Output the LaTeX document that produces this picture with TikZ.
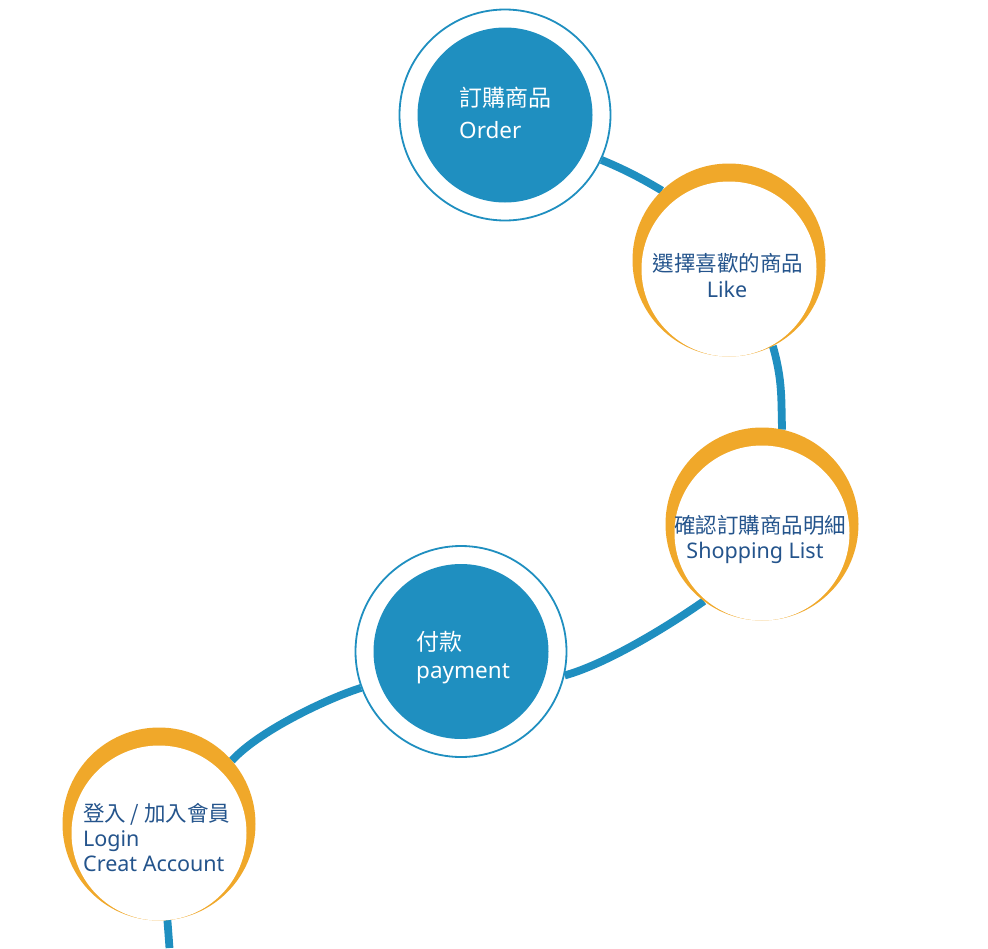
\documentclass[tikz,border=0pt]{standalone}
\usepackage{fontspec}
\setmainfont{Noto Sans}
\newfontfamily\cjkf{Noto Sans CJK TC}
\pgfdeclarelayer{bg}
\pgfdeclarelayer{lines}
\pgfsetlayers{bg,lines,main}
\definecolor{flowblue}{RGB}{31,143,192}
\definecolor{floworange}{RGB}{240,168,42}
\definecolor{flowtext}{RGB}{36,84,140}
\tikzset{
  ringnode/.style={circle, inner sep=0pt, minimum size=211pt, draw=flowblue, line width=1.8pt, fill=white},
  corenode/.style={circle, inner sep=0pt, minimum size=175pt, fill=flowblue},
  halonode/.style={circle, inner sep=0pt, outer sep=0pt, minimum size=193pt, fill=floworange},
  facenode/.style={circle, inner sep=0pt, minimum size=175pt, fill=white},
  link/.style={flowblue, line width=7.8pt},
  cjkblue/.style={inner sep=0pt, text=white, font=\cjkf\fontsize{23}{27}\selectfont},
  latblue/.style={inner sep=0pt, text=white, font=\fontsize{22.5}{27}\selectfont},
  cjkorange/.style={inner sep=0pt, text=flowtext, font=\cjkf\fontsize{21.5}{26}\selectfont},
  latorange/.style={inner sep=0pt, text=flowtext, font=\fontsize{21.5}{26}\selectfont},
}
\begin{document}
\begin{tikzpicture}[x=1pt,y=-1pt]
\begin{pgfonlayer}{bg}
\fill[white] (0,0) rectangle (988,948);
\end{pgfonlayer}
\useasboundingbox (0,0) rectangle (988,948);

% Order
\node[ringnode] (orderring) at (505,115) {};
\node[corenode] (ordercore) at (505,115) {};
\node[cjkblue, anchor=base west] (ordercn) at (459,106) {訂購商品};
\node[latblue, anchor=base west] (orderen) at (459,138) {Order};

% Like
\node[halonode] (likehalo) at (729,260) {};
\node[facenode] (likeface) at (729,269) {};
\node[cjkorange, anchor=base] (likecn) at (728,271) {選擇喜歡的商品};
\node[latorange, anchor=base] (likeen) at (727,297) {Like};

% Shopping list
\node[halonode] (shophalo) at (762,524) {};
\node[facenode] (shopface) at (762,533) {};
\node[cjkorange, anchor=base] (shopcn) at (760,533) {確認訂購商品明細};
\node[latorange, anchor=base] (shopen) at (755,558) {Shopping List};

% payment
\node[ringnode] (payring) at (461,651.5) {};
\node[corenode] (paycore) at (461,651.5) {};
\node[cjkblue, anchor=base west] (paycn) at (416,650) {付款};
\node[latblue, anchor=base west] (payen) at (416,678) {payment};

% Login
\node[halonode] (loginhalo) at (159,824) {};
\node[facenode] (loginface) at (159,833) {};
\node[cjkorange, anchor=base west] (logincn) at (83,821) {登入 / 加入會員};
\node[latorange, anchor=base west] (loginen) at (83,846) {Login};
\node[latorange, anchor=base west] (loginen2) at (83,871) {Creat Account};

\coordinate (tail) at (169.5,948);

\begin{pgfonlayer}{lines}
\draw[link] (orderring.-25) .. controls +(22,9) and +(-20,-12) .. (likehalo.134);
\draw[link] (likehalo.-63) .. controls +(10,35) and +(-1,-30) .. (shophalo.78);
\draw[link] (shophalo.-127) .. controls +(-40,28) and +(40,-11) .. (payring.-13);
\draw[link] (payring.-160) .. controls +(-35,11) and +(26,-29) .. (loginhalo.41);
\draw[link] (loginhalo.-85) -- (tail);
\end{pgfonlayer}
\end{tikzpicture}
\end{document}
